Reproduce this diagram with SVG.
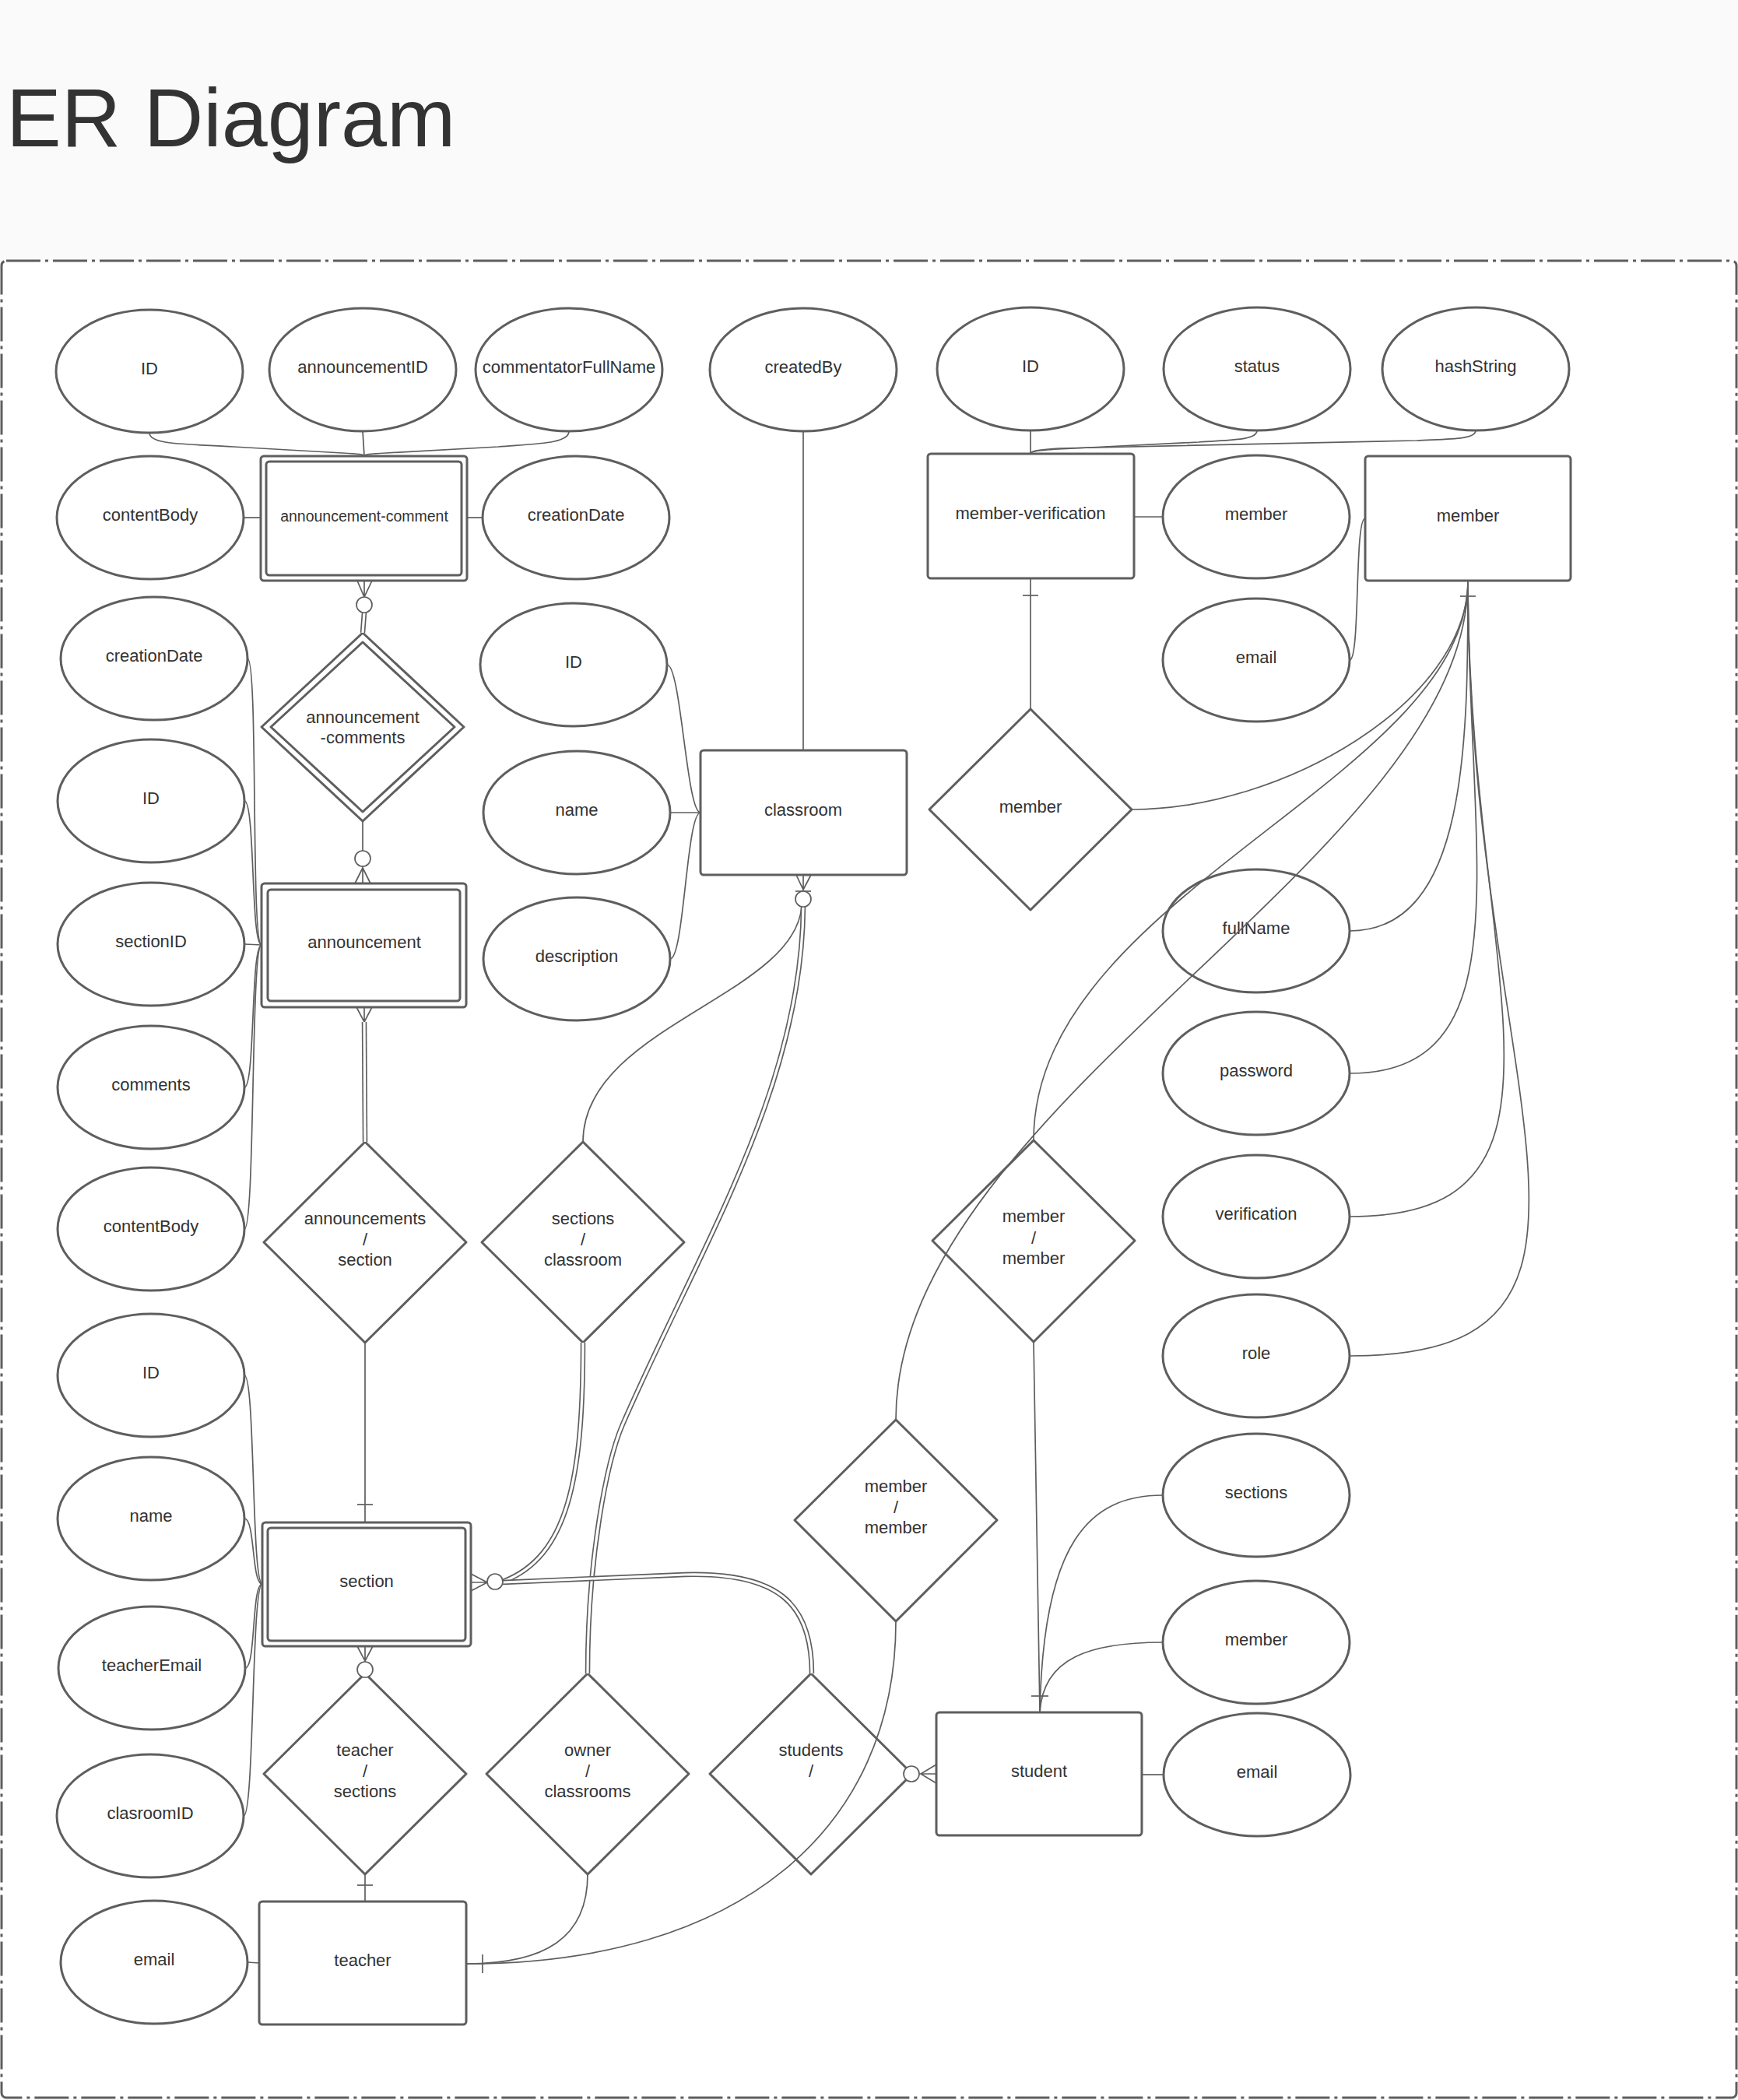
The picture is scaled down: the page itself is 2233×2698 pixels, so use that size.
<svg xmlns="http://www.w3.org/2000/svg" width="2233" height="2698" viewBox="0 0 2233 2698">
<style>
.bg{fill:#fafafa}
.frame{fill:#fff;stroke:#5e5e5e;stroke-width:3;stroke-dasharray:44 6 4 6}
.shape{fill:#fff;stroke:#5e5e5e;stroke-width:3;stroke-linejoin:round}
.inner{fill:none;stroke:#5e5e5e;stroke-width:3;stroke-linejoin:round}
.conn{fill:none;stroke:#5e5e5e;stroke-width:1.7}
.dbl{fill:none;stroke:#5e5e5e;stroke-width:6.5}
.dbli{fill:none;stroke:#fff;stroke-width:3.2}
.dot{fill:#fff;stroke:#5e5e5e;stroke-width:1.7}
text{font-family:"Liberation Sans",Arial,sans-serif;font-size:22px;fill:#333;text-anchor:middle}
.title{font-size:106px;text-anchor:start}
</style>
<rect class="bg" x="0" y="0" width="2233" height="2698"/>
<text class="title" x="8" y="188">ER Diagram</text>
<rect class="frame" x="2" y="335" width="2229" height="2360" rx="6"/>

<g id="nodes">
<g id="attr-ac-id"><ellipse class="shape" cx="192" cy="477" rx="120" ry="79"/><text x="192" y="481">ID</text></g>
<g id="attr-ac-announcementid"><ellipse class="shape" cx="466" cy="475" rx="120" ry="79"/><text x="466" y="479">announcementID</text></g>
<g id="attr-ac-commentator"><ellipse class="shape" cx="731" cy="475" rx="120" ry="79"/><text x="731" y="479">commentatorFullName</text></g>
<g id="attr-createdby"><ellipse class="shape" cx="1032" cy="475" rx="120" ry="79"/><text x="1032" y="479">createdBy</text></g>
<g id="attr-mv-id"><ellipse class="shape" cx="1324" cy="474" rx="120" ry="79"/><text x="1324" y="478">ID</text></g>
<g id="attr-status"><ellipse class="shape" cx="1615" cy="474" rx="120" ry="79"/><text x="1615" y="478">status</text></g>
<g id="attr-hashstring"><ellipse class="shape" cx="1896" cy="474" rx="120" ry="79"/><text x="1896" y="478">hashString</text></g>

<g id="attr-ac-contentbody"><ellipse class="shape" cx="193" cy="665" rx="120" ry="79"/><text x="193" y="669">contentBody</text></g>
<g id="announcement-comment"><rect class="shape" x="335" y="586" width="265" height="160" rx="4"/><rect class="inner" x="342" y="593" width="251" height="146" rx="4"/><text x="468" y="670" style="font-size:19.5px">announcement-comment</text></g>
<g id="attr-ac-creationdate"><ellipse class="shape" cx="740" cy="665" rx="120" ry="79"/><text x="740" y="669">creationDate</text></g>
<g id="member-verification"><rect class="shape" x="1192" y="583" width="265" height="160" rx="4"/><text x="1324" y="667">member-verification</text></g>
<g id="attr-mv-member"><ellipse class="shape" cx="1614" cy="664" rx="120" ry="79"/><text x="1614" y="668">member</text></g>
<g id="member"><rect class="shape" x="1754" y="586" width="264" height="160" rx="4"/><text x="1886" y="670">member</text></g>

<g id="attr-an-creationdate"><ellipse class="shape" cx="198" cy="846" rx="120" ry="79"/><text x="198" y="850">creationDate</text></g>
<g id="announcement-comments"><polygon class="shape" points="466,813 596,934 466,1055 336,934"/><polygon class="inner" points="466,825 584,934 466,1043 348,934"/><text x="466" y="929">announcement</text><text x="466" y="955">-comments</text></g>
<g id="attr-cl-id"><ellipse class="shape" cx="737" cy="854" rx="120" ry="79"/><text x="737" y="858">ID</text></g>
<g id="attr-m-email"><ellipse class="shape" cx="1614" cy="848" rx="120" ry="79"/><text x="1614" y="852">email</text></g>

<g id="attr-an-id"><ellipse class="shape" cx="194" cy="1029" rx="120" ry="79"/><text x="194" y="1033">ID</text></g>
<g id="attr-cl-name"><ellipse class="shape" cx="741" cy="1044" rx="120" ry="79"/><text x="741" y="1048">name</text></g>
<g id="classroom"><rect class="shape" x="900" y="964" width="265" height="160" rx="4"/><text x="1032" y="1048">classroom</text></g>
<g id="rel-member"><polygon class="shape" points="1324,911 1454,1040 1324,1169 1194,1040"/><text x="1324" y="1044">member</text></g>

<g id="attr-an-sectionid"><ellipse class="shape" cx="194" cy="1213" rx="120" ry="79"/><text x="194" y="1217">sectionID</text></g>
<g id="announcement"><rect class="shape" x="336" y="1135" width="263" height="159" rx="4"/><rect class="inner" x="344" y="1143" width="247" height="143" rx="4"/><text x="468" y="1218">announcement</text></g>
<g id="attr-cl-description"><ellipse class="shape" cx="741" cy="1232" rx="120" ry="79"/><text x="741" y="1236">description</text></g>
<g id="attr-fullname"><ellipse class="shape" cx="1614" cy="1196" rx="120" ry="79"/><text x="1614" y="1200">fullName</text></g>

<g id="attr-an-comments"><ellipse class="shape" cx="194" cy="1397" rx="120" ry="79"/><text x="194" y="1401">comments</text></g>
<g id="attr-password"><ellipse class="shape" cx="1614" cy="1379" rx="120" ry="79"/><text x="1614" y="1383">password</text></g>

<g id="attr-an-contentbody"><ellipse class="shape" cx="194" cy="1579" rx="120" ry="79"/><text x="194" y="1583">contentBody</text></g>
<g id="rel-announcements-section"><polygon class="shape" points="469,1467 599,1596 469,1725 339,1596"/><text x="469" y="1573">announcements</text><text x="469" y="1600">/</text><text x="469" y="1626">section</text></g>
<g id="rel-sections-classroom"><polygon class="shape" points="749,1467 879,1596 749,1725 619,1596"/><text x="749" y="1573">sections</text><text x="749" y="1600">/</text><text x="749" y="1626">classroom</text></g>
<g id="rel-member-member-1"><polygon class="shape" points="1328,1465 1458,1594 1328,1724 1198,1594"/><text x="1328" y="1570">member</text><text x="1328" y="1598">/</text><text x="1328" y="1624">member</text></g>
<g id="attr-verification"><ellipse class="shape" cx="1614" cy="1563" rx="120" ry="79"/><text x="1614" y="1567">verification</text></g>
<g id="attr-role"><ellipse class="shape" cx="1614" cy="1742" rx="120" ry="79"/><text x="1614" y="1746">role</text></g>

<g id="attr-se-id"><ellipse class="shape" cx="194" cy="1767" rx="120" ry="79"/><text x="194" y="1771">ID</text></g>
<g id="attr-se-name"><ellipse class="shape" cx="194" cy="1951" rx="120" ry="79"/><text x="194" y="1955">name</text></g>
<g id="rel-member-member-2"><polygon class="shape" points="1151,1824 1281,1953 1151,2083 1021,1953"/><text x="1151" y="1917">member</text><text x="1151" y="1944">/</text><text x="1151" y="1970">member</text></g>
<g id="attr-st-sections"><ellipse class="shape" cx="1614" cy="1921" rx="120" ry="79"/><text x="1614" y="1925">sections</text></g>
<g id="section"><rect class="shape" x="337" y="1956" width="268" height="159" rx="4"/><rect class="inner" x="344" y="1963" width="254" height="145" rx="4"/><text x="471" y="2039">section</text></g>
<g id="attr-st-member"><ellipse class="shape" cx="1614" cy="2110" rx="120" ry="79"/><text x="1614" y="2114">member</text></g>
<g id="attr-se-teacheremail"><ellipse class="shape" cx="195" cy="2143" rx="120" ry="79"/><text x="195" y="2147">teacherEmail</text></g>
<g id="rel-teacher-sections"><polygon class="shape" points="469,2150 599,2279 469,2408 339,2279"/><text x="469" y="2256">teacher</text><text x="469" y="2283">/</text><text x="469" y="2309">sections</text></g>
<g id="rel-owner-classrooms"><polygon class="shape" points="755,2150 885,2279 755,2408 625,2279"/><text x="755" y="2256">owner</text><text x="755" y="2283">/</text><text x="755" y="2309">classrooms</text></g>
<g id="rel-students"><polygon class="shape" points="1042,2150 1172,2279 1042,2408 912,2279"/><text x="1042" y="2256">students</text><text x="1042" y="2283">/</text></g>
<g id="student"><rect class="shape" x="1203" y="2200" width="264" height="158" rx="4"/><text x="1335" y="2283">student</text></g>
<g id="attr-st-email"><ellipse class="shape" cx="1615" cy="2280" rx="120" ry="79"/><text x="1615" y="2284">email</text></g>
<g id="attr-se-clasroomid"><ellipse class="shape" cx="193" cy="2333" rx="120" ry="79"/><text x="193" y="2337">clasroomID</text></g>
<g id="attr-te-email"><ellipse class="shape" cx="198" cy="2521" rx="120" ry="79"/><text x="198" y="2525">email</text></g>
<g id="teacher"><rect class="shape" x="333" y="2443" width="266" height="158" rx="4"/><text x="466" y="2526">teacher</text></g>
</g>

<g id="connectors">
<path class="conn" d="M192,556 C192,572 240,570 300,574 L440,582 C462,583 468,584 468,586"/>
<path class="conn" d="M466,554 L468,586"/>
<path class="conn" d="M731,554 C731,570 690,570 640,574 L496,582 C474,583 468,584 468,586"/>
<path class="conn" d="M313,665 L335,665"/>
<path class="conn" d="M620,665 L600,665"/>
<path class="conn" d="M1324,553 L1324,583"/>
<path class="conn" d="M1615,553 C1615,566 1580,565 1540,568 L1360,577 C1330,579 1324,580 1324,583"/>
<path class="conn" d="M1896,553 C1896,565 1860,564 1820,566 L1360,576 C1330,578 1324,580 1324,583"/>
<path class="conn" d="M1494,664 L1457,664"/>
<path class="conn" d="M1734,848 C1748,848 1740,666 1754,666"/>
<path class="conn" d="M1886,746 C1886,950 1886,1196 1734,1196"/>
<path class="conn" d="M1886,746 C1886,1100 1960,1379 1734,1379"/>
<path class="conn" d="M1886,746 C1886,1250 2060,1563 1734,1563"/>
<path class="conn" d="M1886,746 C1886,1400 2140,1742 1734,1742"/>
<path class="conn" d="M1886,746 C1886,900 1650,1040 1454,1040"/>
<path class="conn" d="M1886,746 C1886,1000 1328,1150 1328,1465"/>
<path class="conn" d="M1886,746 C1886,1100 1151,1420 1151,1824"/>
<path class="conn" d="M1876,766 L1896,766"/>
<path class="conn" d="M1324,743 L1324,911"/>
<path class="conn" d="M1314,765 L1334,765"/>
<path class="conn" d="M1032,554 L1032,964"/>
<path class="conn" d="M857,854 C875,854 882,1044 900,1044"/>
<path class="conn" d="M861,1044 L900,1044"/>
<path class="conn" d="M861,1232 C879,1232 882,1044 900,1044"/>
<path class="conn" d="M318,846 C332,846 322,1214 336,1214"/>
<path class="conn" d="M314,1029 C328,1029 322,1214 336,1214"/>
<path class="conn" d="M314,1213 L336,1214"/>
<path class="conn" d="M314,1397 C328,1397 322,1214 336,1214"/>
<path class="conn" d="M314,1579 C328,1579 322,1214 336,1214"/>
<path class="conn" d="M314,1767 C328,1767 323,2035 337,2035"/>
<path class="conn" d="M314,1951 C328,1951 323,2035 337,2035"/>
<path class="conn" d="M315,2143 C329,2143 323,2035 337,2035"/>
<path class="conn" d="M313,2333 C327,2333 323,2035 337,2035"/>
<path class="conn" d="M318,2521 L333,2522"/>
<path class="conn" d="M1495,2280 L1467,2280"/>
<path class="conn" d="M1494,1921 C1400,1921 1340,1980 1336,2200"/>
<path class="conn" d="M1494,2110 C1400,2110 1340,2130 1336,2200"/>
<path class="conn" d="M1328,1724 L1336,2200"/>
<path class="conn" d="M1325,2179 L1347,2179"/>
<path class="conn" d="M459,746 L468,767 L478,746 M468,746 L468,767"/>
<path class="dbl" d="M468,787 L466,813"/><path class="dbli" d="M468,787 L466,813"/>
<path class="conn" d="M466,1055 L466,1093"/>
<path class="conn" d="M466,1113 L466,1135 M466,1115 L456,1135 M466,1115 L476,1135"/>
<path class="conn" d="M458,1294 L468,1313 L478,1294 M468,1294 L468,1313"/>
<path class="dbl" d="M468,1313 L469,1467"/><path class="dbli" d="M468,1313 L469,1467"/>
<path class="conn" d="M469,1725 L469,1956"/>
<path class="conn" d="M459,1933 L479,1933"/>
<path class="conn" d="M1023,1124 L1032,1143 L1042,1124 M1032,1124 L1032,1145"/>
<path class="conn" d="M1022,1145 L1042,1145"/>
<path class="conn" d="M749,1467 C749,1320 1020,1280 1030,1165"/>
<path class="dbl" d="M1032,1165 C1030,1400 900,1600 800,1830 C780,1876 755,2000 755,2150"/><path class="dbli" d="M1032,1165 C1030,1400 900,1600 800,1830 C780,1876 755,2000 755,2150"/>
<path class="dbl" d="M749,1725 C749,1900 730,2000 646,2032"/><path class="dbli" d="M749,1725 C749,1900 730,2000 646,2032"/>
<path class="dbl" d="M646,2033 L880,2023 C1000,2020 1043,2060 1043,2150"/><path class="dbli" d="M646,2033 L880,2023 C1000,2020 1043,2060 1043,2150"/>
<path class="conn" d="M605,2022 L626,2033 L605,2044 M605,2033 L626,2033"/>
<path class="conn" d="M459,2115 L469,2134 L479,2115 M469,2115 L469,2135"/>
<path class="conn" d="M469,2408 L469,2443"/>
<path class="conn" d="M459,2422 L479,2422"/>
<path class="conn" d="M755,2408 C755,2490 700,2523 599,2523"/>
<path class="conn" d="M1151,2083 C1151,2350 950,2523 599,2523"/>
<path class="conn" d="M620,2511 L620,2535"/>
<path class="conn" d="M1181,2279 L1203,2279 M1203,2267 L1183,2279 L1203,2291"/>
<circle class="dot" cx="468" cy="777" r="10"/>
<circle class="dot" cx="466" cy="1103" r="10"/>
<circle class="dot" cx="1032" cy="1155" r="10"/>
<circle class="dot" cx="636" cy="2032" r="10"/>
<circle class="dot" cx="469" cy="2145" r="10"/>
<circle class="dot" cx="1171" cy="2279" r="10"/>
</g>
</svg>
